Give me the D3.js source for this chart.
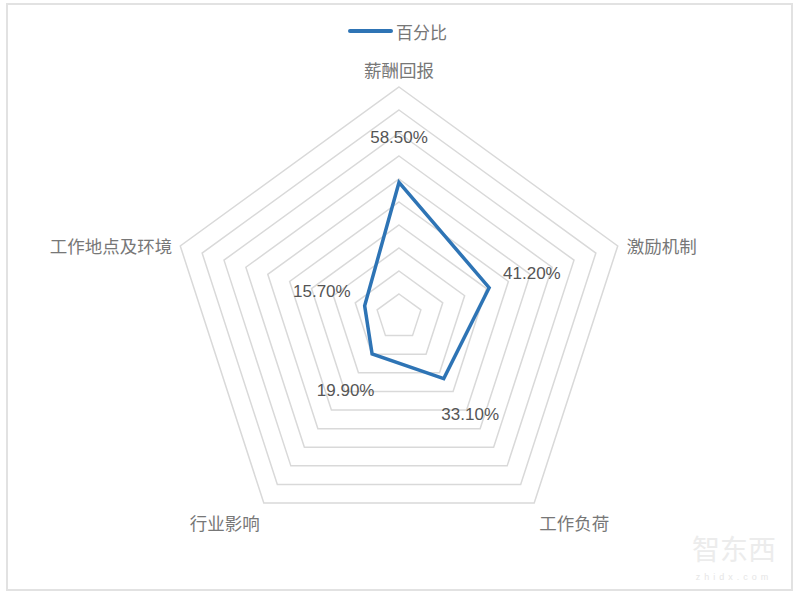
<!DOCTYPE html>
<html>
<head>
<meta charset="utf-8">
<script src="https://cdn.jsdelivr.net/npm/d3@7"></script>
<style>
  html, body { margin: 0; padding: 0; background: #fff; }
  svg { display: block; }
</style>
</head>
<body>
<svg id="chart" width="800" height="601"></svg>
<script>
const categories = ["薪酬回报", "激励机制", "工作负荷", "行业影响", "工作地点及环境"];
const values = [58.5, 41.2, 33.1, 19.9, 15.7];
const valueLabels = ["58.50%", "41.20%", "33.10%", "19.90%", "15.70%"];
const ringTicks = [10, 20, 30, 40, 50, 60, 70, 80, 90, 100];
const seriesName = "百分比";

const svg = d3.select("#chart");
const cx = 399, cy = 317, R = 230;
const blue = "#2e74b5";
const cjk = "'Noto Sans CJK SC', 'Noto Sans', sans-serif";

// frame
svg.append("rect").attr("x", 7).attr("y", 4).attr("width", 785).attr("height", 586)
  .attr("fill", "none").attr("stroke", "#e2e2e2").attr("stroke-width", 2);

const r = d3.scaleLinear().domain([0, 100]).range([0, R]);
const angle = d3.scalePoint().domain(categories).range([0, 2 * Math.PI * (categories.length - 1) / categories.length]);

const g = svg.append("g").attr("transform", `translate(${cx},${cy})`);

const radial = d3.lineRadial().curve(d3.curveLinearClosed);

// grid rings
g.selectAll("path.ring").data(ringTicks).join("path")
  .attr("class", "ring")
  .attr("d", t => radial(categories.map(c => [angle(c), r(t)])))
  .attr("fill", "none").attr("stroke", "#d9d9d9").attr("stroke-width", 1.5);

// data polygon
const pts = categories.map((c, i) => ({ c, v: values[i], a: angle(c), lab: valueLabels[i] }));
g.append("path")
  .attr("d", radial(pts.map(p => [p.a, r(p.v)])))
  .attr("fill", "none").attr("stroke", blue).attr("stroke-width", 3.5)
  .attr("stroke-linejoin", "miter");

// value labels
g.selectAll("text.val").data(pts).join("text")
  .attr("class", "val")
  .attr("x", p => Math.sin(p.a) * (r(p.v) + 45))
  .attr("y", p => -Math.cos(p.a) * (r(p.v) + 45))
  .attr("text-anchor", "middle").attr("dominant-baseline", "central")
  .attr("font-family", "'Liberation Sans', Arial, sans-serif")
  .attr("font-size", 17).attr("fill", "#555")
  .text(p => p.lab);

// category labels
g.selectAll("text.cat").data(pts).join("text")
  .attr("class", "cat")
  .each(function (p) {
    const sx = Math.sin(p.a), sy = -Math.cos(p.a);
    const ox = R * sx, oy = R * sy;
    const t = d3.select(this);
    if (Math.abs(sx) < 0.01) {
      t.attr("x", ox).attr("y", oy - 18).attr("text-anchor", "middle");
    } else if (sy < 0) {
      t.attr("x", ox + (sx > 0 ? 9 : -8)).attr("y", oy).attr("text-anchor", sx > 0 ? "start" : "end");
    } else {
      t.attr("x", ox + (sx > 0 ? 5 : -4)).attr("y", oy + 19).attr("text-anchor", sx > 0 ? "start" : "end");
    }
  })
  .attr("dominant-baseline", "central")
  .attr("font-family", cjk).attr("font-size", 17.5).attr("fill", "#777")
  .text(p => p.c);

// legend
svg.append("line").attr("x1", 350).attr("x2", 391).attr("y1", 31).attr("y2", 31)
  .attr("stroke", blue).attr("stroke-width", 4).attr("stroke-linecap", "round");
svg.append("text").attr("x", 396).attr("y", 31).attr("dominant-baseline", "central")
  .attr("font-family", cjk).attr("font-size", 17).attr("fill", "#777").text(seriesName);

// watermark
svg.append("text").attr("x", 734).attr("y", 560).attr("text-anchor", "middle")
  .attr("font-family", cjk).attr("font-size", 28).attr("fill", "#ececec").text("智东西");
svg.append("text").attr("x", 734).attr("y", 580).attr("text-anchor", "middle")
  .attr("font-family", "'Liberation Sans', sans-serif").attr("font-size", 9).attr("letter-spacing", 4)
  .attr("fill", "#e6e6e6").text("zhidx.com");
</script>
</body>
</html>
